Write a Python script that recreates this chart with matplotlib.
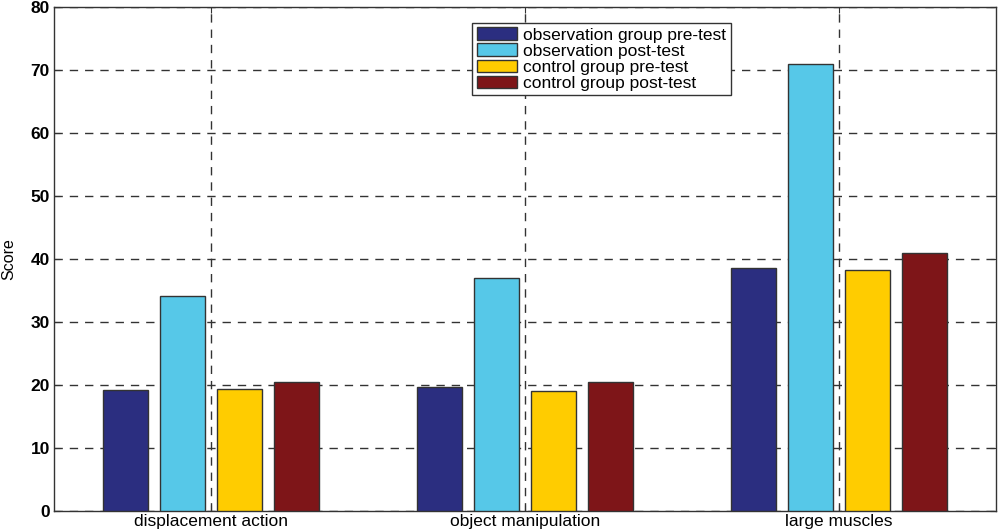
import matplotlib
matplotlib.use("Agg")
import matplotlib.pyplot as plt
import numpy as np

categories = ["displacement action", "object manipulation", "large muscles"]
series_names = ["observation group pre-test", "observation post-test",
                "control group pre-test", "control group post-test"]
obs_pre = [19.2, 19.6, 38.6]
obs_post = [34.1, 36.9, 70.9]
ctrl_pre = [19.3, 19.1, 38.3]
ctrl_post = [20.5, 20.5, 40.9]
yticks = [0, 10, 20, 30, 40, 50, 60, 70, 80]

colors = ["#2b2e80", "#56c8e8", "#ffcc00", "#7e1518"]
plt.rcParams['font.family'] = ['Liberation Sans', 'DejaVu Sans']

fig = plt.figure(figsize=(10, 5.31), dpi=100)
ax = fig.add_axes([0.054, 0.038, 0.942, 0.949])

x = np.arange(1, len(categories) + 1)
step = 0.1815
width = 0.143
for i, (vals, name, c) in enumerate(zip([obs_pre, obs_post, ctrl_pre, ctrl_post], series_names, colors)):
    ax.bar(x + (i - 1.5) * step, vals, width=width, color=c, edgecolor="#333333",
           linewidth=1.0, label=name, zorder=3)

ax.set_xlim(0.5, 3.5)
ax.set_ylim(0, 80)
ax.set_yticks(yticks)
ax.set_xticks(x)
ax.set_xticklabels(categories, fontsize=12.5)
ax.tick_params(axis='y', direction='in', labelsize=12.5, length=4, color='#333333', pad=3)
ax.tick_params(axis='x', direction='in', length=4, color='#333333', pad=2)
ax.tick_params(axis='y', right=True)
ax.tick_params(axis='x', top=True)
for t in ax.get_yticklabels():
    t.set_fontweight('bold')
ax.grid(True, linestyle=(0, (6, 5)), color="#333333", linewidth=1.0, zorder=0)
ax.set_axisbelow(True)
for s in ax.spines.values():
    s.set_color("#333333")
    s.set_linewidth(1.0)
ax.set_ylabel("Score", fontsize=11.5, labelpad=10)

leg = ax.legend(loc='upper left', bbox_to_anchor=(0.444, 0.968), fontsize=12.5,
                handlelength=2.3, handleheight=0.72, labelspacing=0.05,
                handletextpad=0.4, borderpad=0.25, borderaxespad=0,
                fancybox=False, framealpha=1, edgecolor="#333333")
leg.get_frame().set_linewidth(1.0)

fig.savefig("out.png", dpi=100)
